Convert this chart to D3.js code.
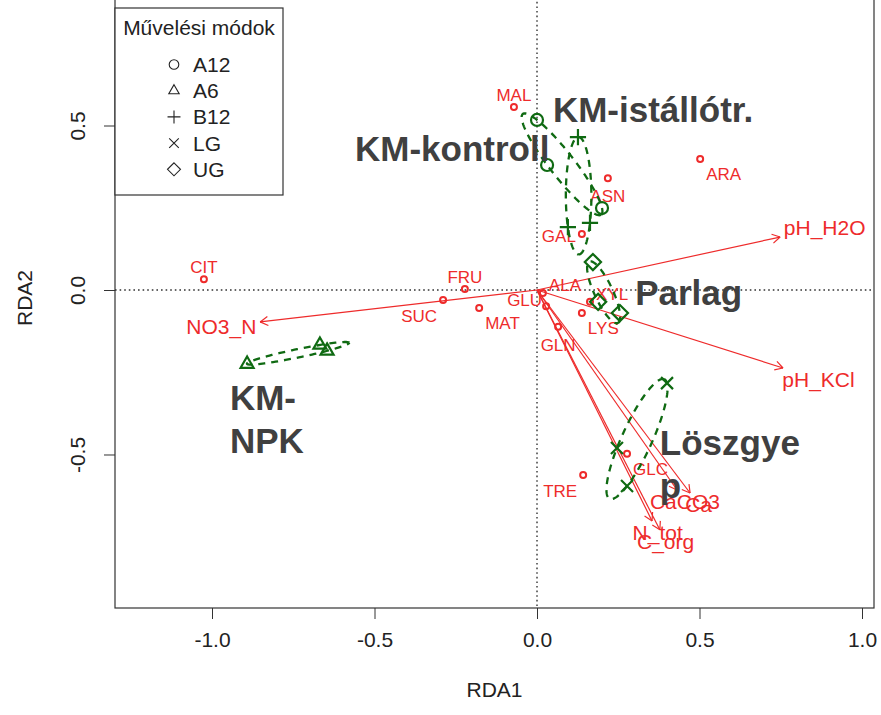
<!DOCTYPE html>
<html>
<head>
<meta charset="utf-8">
<script src="https://cdn.jsdelivr.net/npm/d3@7"></script>
<style>
  body { margin: 0; background: #fff; }
  svg { display: block; }
  text { font-family: "Liberation Sans", Arial, Helvetica, sans-serif; }
</style>
</head>
<body>
<svg id="chart" width="881" height="715"></svg>
<script>
// ---- RDA biplot data ----
// species scores (red points)
const speciesNames = ["MAL", "ARA", "ASN", "GAL", "CIT", "FRU", "SUC", "MAT", "GLU", "ALA", "GLN", "XYL", "LYS", "GLC", "TRE"];
const speciesRDA1  = [-0.071, 0.502, 0.218, 0.138, -1.025, -0.222, -0.289, -0.178, 0.028, 0.018, 0.065, 0.163, 0.138, 0.277, 0.142];
const speciesRDA2  = [0.556, 0.398, 0.340, 0.170, 0.033, 0.003, -0.030, -0.055, -0.049, -0.009, -0.112, -0.036, -0.070, -0.498, -0.562];
const speciesLabelSide = ["n", "se", "s", "w", "n", "n", "sw", "se", "nw", "ne", "s", "ne", "se", "se", "sw"];

// fitted environmental vectors (arrow heads)
const envNames = ["pH_H2O", "pH_KCl", "NO3_N", "N_tot", "C_org", "CaCO3", "Ca"];
const envRDA1  = [0.748, 0.757, -0.852, 0.354, 0.378, 0.431, 0.471];
const envRDA2  = [0.161, -0.237, -0.097, -0.702, -0.729, -0.608, -0.617];

// site scores by cultivation method
const methods    = ["A12", "A6", "B12", "LG", "UG"];
const methodPch  = ["circle", "triangle", "plus", "cross", "diamond"];
const siteMethod = ["A12", "A12", "A12", "A6", "A6", "A6", "B12", "B12", "B12", "LG", "LG", "LG", "UG", "UG", "UG"];
const siteRDA1   = [0.000, 0.031, 0.200, -0.892, -0.668, -0.646, 0.126, 0.095, 0.163, 0.400, 0.246, 0.277, 0.172, 0.188, 0.255];
const siteRDA2   = [0.517, 0.380, 0.249, -0.225, -0.167, -0.185, 0.465, 0.191, 0.204, -0.283, -0.480, -0.596, 0.085, -0.036, -0.070];

// treatment names written on the plot
const treatmentText = [["KM-istállótr."], ["KM-kontroll"], ["Parlag"], ["KM-", "NPK"], ["Löszgye", "p"]];
const treatmentAt   = [[0.049, 0.511], [-0.560, 0.392], [0.302, -0.046], [-0.945, -0.365], [0.378, -0.502]];

const xTicks = [-1.0, -0.5, 0.0, 0.5, 1.0];
const yTicks = [-0.5, 0.0, 0.5];
const legendTitle = "Művelési módok";
const xTitle = "RDA1", yTitle = "RDA2";

// ---- layout ----
const plot = { left: 115, right: 874, top: -12, bottom: 608 };
const RED = "#ee2b2b", GREEN = "#0f6a12", INK = "#333", GREY_TXT = "#404040";

const x = d3.scaleLinear().domain([-1.2985, 1.0369]).range([plot.left, plot.right]);
const y = d3.scaleLinear().domain([-0.9666, 0.918]).range([plot.bottom, plot.top]);

const svg = d3.select("#chart");

// zero reference lines
svg.append("line").attr("x1", x(0)).attr("x2", x(0)).attr("y1", plot.top).attr("y2", plot.bottom)
  .attr("stroke", INK).attr("stroke-width", 1.4).attr("stroke-dasharray", "1.6,3");
svg.append("line").attr("x1", plot.left).attr("x2", plot.right).attr("y1", y(0)).attr("y2", y(0))
  .attr("stroke", INK).attr("stroke-width", 1.4).attr("stroke-dasharray", "1.6,3");

// axes
const fmt = d => d.toFixed(1);
const gx = svg.append("g").attr("transform", `translate(0,${plot.bottom})`)
  .call(d3.axisBottom(x).tickValues(xTicks).tickFormat(fmt).tickSize(11).tickPadding(13));
gx.select(".domain").remove();
gx.selectAll("line").attr("stroke", INK);
gx.selectAll("text").attr("font-size", 21).attr("fill", "#222")
  .style("font-family", "'Liberation Sans', Arial, sans-serif");

const gy = svg.append("g").attr("transform", `translate(${plot.left},0)`)
  .call(d3.axisLeft(y).tickValues(yTicks).tickFormat(fmt).tickSize(11));
gy.select(".domain").remove();
gy.selectAll("line").attr("stroke", INK);
gy.selectAll("text").attr("x", null).attr("dy", null).attr("text-anchor", "middle")
  .attr("transform", "translate(-30,0) rotate(-90)")
  .attr("font-size", 21).attr("fill", "#222")
  .style("font-family", "'Liberation Sans', Arial, sans-serif");

svg.append("text").attr("x", (plot.left + plot.right) / 2).attr("y", 697)
  .attr("text-anchor", "middle").attr("font-size", 21).attr("fill", "#222").text(xTitle);
svg.append("text").attr("transform", `translate(32,${(plot.top + plot.bottom) / 2}) rotate(-90)`)
  .attr("text-anchor", "middle").attr("font-size", 21).attr("fill", "#222").text(yTitle);

// environmental arrows
const env = envNames.map((n, i) => ({ name: n, x: envRDA1[i], y: envRDA2[i] }));
const ga = svg.append("g");
const head = 9, headAng = Math.PI / 6;
env.forEach(e => {
  const x0 = x(0), y0 = y(0), x1 = x(e.x), y1 = y(e.y);
  const ang = Math.atan2(y1 - y0, x1 - x0);
  ga.append("line").attr("x1", x0).attr("y1", y0).attr("x2", x1).attr("y2", y1)
    .attr("stroke", RED).attr("stroke-width", 1.2);
  [-headAng, headAng].forEach(a => {
    ga.append("line").attr("x1", x1).attr("y1", y1)
      .attr("x2", x1 - head * Math.cos(ang + a)).attr("y2", y1 - head * Math.sin(ang + a))
      .attr("stroke", RED).attr("stroke-width", 1.2);
  });
});
// labels just beyond the arrow tips, box touching the tip
env.forEach(e => {
  const t = ga.append("text").attr("font-size", 21).attr("fill", RED).text(e.name);
  const w = t.node().getComputedTextLength(), h = 15;
  const x1 = x(e.x), y1 = y(e.y);
  const dx = x1 - x(0), dy = y1 - y(0);
  const b = dy / dx;
  let ox = Math.sign(dx) * (w / 2 + h / 4), oy = 0.75 * h * Math.sign(dy);
  const move = oy / b;
  if (isFinite(move) && Math.abs(move) <= Math.abs(ox)) ox = move; else oy = b * ox;
  t.attr("x", x1 + ox).attr("y", y1 + oy + h / 2).attr("text-anchor", "middle");
});

// species points and names
const sideOffset = {
  n:  { a: "middle", dx: 0,  dy: -6 },
  s:  { a: "middle", dx: 0,  dy: 24 },
  ne: { a: "start",  dx: 6,  dy: -2 },
  se: { a: "start",  dx: 6,  dy: 21 },
  w:  { a: "end",    dx: -6, dy: 8 },
  nw: { a: "end",    dx: -4, dy: 0 },
  sw: { a: "end",    dx: -6, dy: 22 }
};
const species = speciesNames.map((n, i) => ({ name: n, x: speciesRDA1[i], y: speciesRDA2[i], side: speciesLabelSide[i] }));
const gs = svg.append("g");
gs.selectAll("circle").data(species).join("circle")
  .attr("cx", d => x(d.x)).attr("cy", d => y(d.y)).attr("r", 3)
  .attr("fill", "none").attr("stroke", RED).attr("stroke-width", 2);
gs.selectAll("text").data(species).join("text")
  .attr("x", d => x(d.x) + sideOffset[d.side].dx)
  .attr("y", d => y(d.y) + sideOffset[d.side].dy)
  .attr("text-anchor", d => sideOffset[d.side].a)
  .attr("font-size", 17).attr("fill", RED).text(d => d.name);

// dispersion ellipses for each method (ellipse through the group's sites)
const sites = siteMethod.map((m, i) => ({ method: m, x: siteRDA1[i], y: siteRDA2[i] }));
function groupEllipse(pts) {
  const n = pts.length;
  const mx = d3.mean(pts, p => p.x), my = d3.mean(pts, p => p.y);
  let sxx = 0, syy = 0, sxy = 0;
  pts.forEach(p => { sxx += (p.x - mx) ** 2; syy += (p.y - my) ** 2; sxy += (p.x - mx) * (p.y - my); });
  sxx /= (n - 1); syy /= (n - 1); sxy /= (n - 1);
  const det = sxx * syy - sxy * sxy;
  const d2 = d3.max(pts, p => {
    const u = p.x - mx, v = p.y - my;
    return (syy * u * u - 2 * sxy * u * v + sxx * v * v) / det;
  });
  const k = Math.sqrt(d2);
  const tr = sxx + syy, disc = Math.sqrt((sxx - syy) ** 2 / 4 + sxy * sxy);
  const l1 = tr / 2 + disc, l2 = Math.max(tr / 2 - disc, 1e-12);
  const th = 0.5 * Math.atan2(2 * sxy, sxx - syy);
  return d3.range(0, 121).map(i => {
    const t = i / 120 * 2 * Math.PI;
    const u = k * Math.sqrt(l1) * Math.cos(t), v = k * Math.sqrt(l2) * Math.sin(t);
    return [mx + u * Math.cos(th) - v * Math.sin(th), my + u * Math.sin(th) + v * Math.cos(th)];
  });
}
const ge = svg.append("g");
const ellLine = d3.line().x(d => x(d[0])).y(d => y(d[1]));
methods.forEach(m => {
  const pts = sites.filter(s => s.method === m);
  ge.append("path").attr("d", ellLine(groupEllipse(pts)))
    .attr("fill", "none").attr("stroke", GREEN).attr("stroke-width", 2.3)
    .attr("stroke-dasharray", "7,6");
});

// plotting symbols
function symbolPath(type, s) {
  switch (type) {
    case "circle":   return `M${s},0A${s},${s} 0 1,1 ${-s},0A${s},${s} 0 1,1 ${s},0Z`;
    case "triangle": { const r = s * 1.25; return `M0,${-r}L${r * 0.866},${r * 0.5}L${-r * 0.866},${r * 0.5}Z`; }
    case "plus":     { const r = s * 1.35; return `M${-r},0H${r}M0,${-r}V${r}`; }
    case "cross":    { const r = s * 1.0; return `M${-r},${-r}L${r},${r}M${-r},${r}L${r},${-r}`; }
    case "diamond":  { const r = s * 1.35; return `M0,${-r}L${r},0L0,${r}L${-r},0Z`; }
  }
}
const pchOf = m => methodPch[methods.indexOf(m)];
svg.append("g").selectAll("path").data(sites).join("path")
  .attr("transform", d => `translate(${x(d.x)},${y(d.y)})`)
  .attr("d", d => symbolPath(pchOf(d.method), 6))
  .attr("fill", "none").attr("stroke", GREEN).attr("stroke-width", 2.2);

// frame
svg.append("rect").attr("x", plot.left).attr("y", plot.top)
  .attr("width", plot.right - plot.left).attr("height", plot.bottom - plot.top)
  .attr("fill", "none").attr("stroke", INK).attr("stroke-width", 1.2);

// legend
const lg = svg.append("g");
lg.append("rect").attr("x", 115).attr("y", 8).attr("width", 168).attr("height", 187)
  .attr("fill", "#fff").attr("stroke", INK).attr("stroke-width", 1.2);
lg.append("text").attr("x", 199).attr("y", 35).attr("text-anchor", "middle")
  .attr("font-size", 21).attr("fill", "#222").text(legendTitle);
methods.forEach((m, i) => {
  const by = 72 + i * 26.2;
  lg.append("path").attr("transform", `translate(174,${by - 7.5})`)
    .attr("d", symbolPath(methodPch[i], 4.8))
    .attr("fill", "none").attr("stroke", "#222").attr("stroke-width", 1.1);
  lg.append("text").attr("x", 193).attr("y", by).attr("font-size", 21).attr("fill", "#222").text(m);
});

// treatment names
const gt = svg.append("g");
treatmentText.forEach((lines, i) => {
  const t = gt.append("text").attr("x", x(treatmentAt[i][0])).attr("y", y(treatmentAt[i][1]))
    .attr("font-size", 35).attr("font-weight", "bold").attr("fill", GREY_TXT);
  lines.forEach((ln, j) => {
    t.append("tspan").attr("x", x(treatmentAt[i][0])).attr("dy", j === 0 ? 0 : 43).text(ln);
  });
});
</script>
</body>
</html>
